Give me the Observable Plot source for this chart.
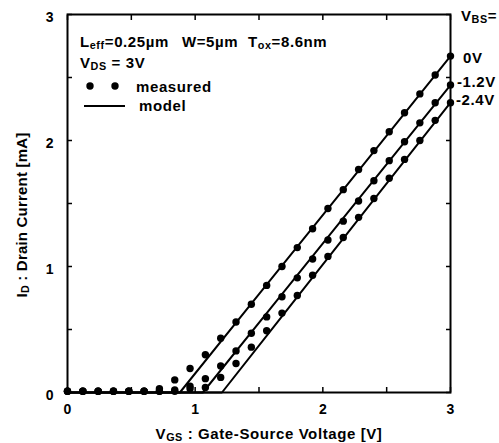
<!DOCTYPE html>
<html><head><meta charset="utf-8">
<script src="https://cdn.jsdelivr.net/npm/d3@7"></script>
<script src="https://cdn.jsdelivr.net/npm/@observablehq/plot@0.6"></script>
<style>body{margin:0;background:#fff}</style>
</head><body><div id="chart"></div>
<script>
// ---- data ----
const VGS = [0,0.12,0.24,0.36,0.48,0.60,0.72,0.84,0.96,1.08,1.20,1.32,1.44,1.56,1.68,1.80,1.92,2.04,2.16,2.28,2.40,2.52,2.64,2.76,2.88,3.00];
const ID_0V  = [0.01,0.01,0.01,0.01,0.01,0.01,0.03,0.10,0.19,0.30,0.43,0.56,0.70,0.85,1.00,1.15,1.30,1.46,1.61,1.77,1.92,2.07,2.22,2.37,2.52,2.67];
const ID_M12 = [0.01,0.01,0.01,0.01,0.01,0.01,0.01,0.02,0.05,0.11,0.21,0.33,0.47,0.60,0.76,0.91,1.06,1.21,1.36,1.52,1.68,1.84,1.99,2.14,2.30,2.44];
const ID_M24 = [0.01,0.01,0.01,0.01,0.01,0.01,0.01,0.01,0.03,0.04,0.12,0.23,0.36,0.49,0.63,0.77,0.93,1.08,1.23,1.39,1.54,1.70,1.85,2.00,2.16,2.30];
const SERIES = ["0V","-1.2V","-2.4V"];
const MODEL_V_0V  = [0,0.88,1.5,2.2,3.0];
const MODEL_I_0V  = [0,0,0.78,1.66,2.67];
const MODEL_V_M12 = [0,1.06,1.6,2.3,3.0];
const MODEL_I_M12 = [0,0,0.68,1.56,2.44];
const MODEL_V_M24 = [0,1.21,1.7,2.4,3.0];
const MODEL_I_M24 = [0,0,0.63,1.53,2.30];
const X_TICKS = [0,1,2,3];
const Y_TICKS = [0,1,2,3];
const MINOR_TICKS = [0,0.5,1,1.5,2,2.5,3];

const measuredSets = [ID_0V, ID_M12, ID_M24];
const modelV = [MODEL_V_0V, MODEL_V_M12, MODEL_V_M24];
const modelI = [MODEL_I_0V, MODEL_I_M12, MODEL_I_M24];
const measured = SERIES.flatMap((s,k) => VGS.map((v,j) => ({v, i: measuredSets[k][j], s})));
const model = SERIES.flatMap((s,k) => modelV[k].map((v,j) => ({v, i: modelI[k][j], s})));

const FONT = "'Liberation Sans', Arial, Helvetica, sans-serif";
const W = 499, H = 443, ML = 67, MR = 49, MT = 14, MB = 51;
const TICK = 5;
const noText = () => "";

const chart = Plot.plot({
  width: W, height: H,
  marginLeft: ML, marginRight: MR, marginTop: MT, marginBottom: MB,
  style: {fontFamily: FONT, fontSize: "14px", fontWeight: "bold", color: "black", background: "white"},
  x: {domain: [0,3]},
  y: {domain: [0,3]},
  marks: [
    // inward minor ticks on all four sides
    Plot.axisX(MINOR_TICKS, {anchor: "bottom", tickSize: TICK, insetBottom: TICK, tickFormat: noText, label: null, strokeWidth: 1.5}),
    Plot.axisX(MINOR_TICKS, {anchor: "top", tickSize: TICK, insetTop: TICK, tickFormat: noText, label: null, strokeWidth: 1.5}),
    Plot.axisY(MINOR_TICKS, {anchor: "left", tickSize: TICK, insetLeft: TICK, tickFormat: noText, label: null, strokeWidth: 1.5}),
    Plot.axisY(MINOR_TICKS, {anchor: "right", tickSize: TICK, insetRight: TICK, tickFormat: noText, label: null, strokeWidth: 1.5}),
    Plot.line(model, {x: "v", y: "i", z: "s", stroke: "black", strokeWidth: 2}),
    Plot.dot(measured, {x: "v", y: "i", r: 3.7, fill: "black"}),
    Plot.frame({stroke: "black", strokeWidth: 2}),
    Plot.axisX(X_TICKS, {anchor: "bottom", tickSize: 0, tickPadding: 12, tickFormat: d3.format("d"), label: null, fontSize: 14, fontWeight: "bold"}),
    Plot.axisY(Y_TICKS, {anchor: "left", tickSize: 0, tickPadding: 14, tickFormat: d3.format("d"), label: null, fontSize: 14, fontWeight: "bold", dy: 3})
  ]
});
document.getElementById("chart").appendChild(chart);

const svg = d3.select(chart);
function rich(x, y, parts, opts = {}) {
  const size = opts.size ?? 15;
  const t = svg.append("text")
    .attr("x", x).attr("y", y)
    .attr("font-family", FONT).attr("font-weight", "bold")
    .attr("font-size", size).attr("letter-spacing", opts.ls ?? 0.6)
    .attr("fill", "black").attr("text-anchor", opts.anchor ?? "start");
  if (opts.transform) t.attr("transform", opts.transform);
  let shifted = false;
  for (const p of parts) {
    const sub = typeof p !== "string";
    const ts = t.append("tspan").text(sub ? p.sub : p);
    if (sub) {
      ts.attr("font-size", size * 0.72);
      if (!shifted) { ts.attr("dy", 1.5); shifted = true; }
    } else if (shifted) { ts.attr("dy", -1.5); shifted = false; }
  }
  return t;
}

// axis titles
rich(269, 439, ["V", {sub: "GS"}, " : Gate-Source Voltage [V]"], {anchor: "middle"});
rich(0, 0, ["I", {sub: "D"}, " : Drain Current [mA]"], {anchor: "middle", ls: 0.2, transform: "translate(27,215) rotate(-90)"});

// annotations
rich(80, 47, ["L", {sub: "eff"}, "=0.25µm"]);
rich(182, 47, ["W=5µm"]);
rich(248, 47, ["T", {sub: "ox"}, "=8.6nm"]);
rich(80, 68, ["V", {sub: "DS"}, " = 3V"]);

// legend
svg.append("circle").attr("cx", 90).attr("cy", 86).attr("r", 3.7).attr("fill", "black");
svg.append("circle").attr("cx", 115).attr("cy", 86).attr("r", 3.7).attr("fill", "black");
rich(136, 92, ["measured"]);
svg.append("line").attr("x1", 84).attr("x2", 125).attr("y1", 106).attr("y2", 106).attr("stroke", "black").attr("stroke-width", 2);
rich(139, 111, ["model"]);

// series labels at right
rich(461, 21, ["V", {sub: "BS"}, "="]);
rich(463, 63, [SERIES[0]]);
rich(457, 87, [SERIES[1]]);
rich(456, 105, [SERIES[2]]);
</script>
</body></html>
